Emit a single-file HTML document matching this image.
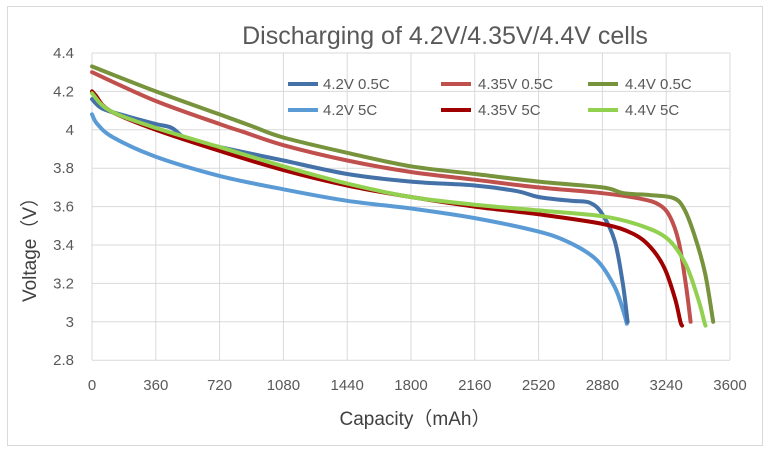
<!DOCTYPE html>
<html><head><meta charset="utf-8"><style>
body{margin:0;background:#fff;}
svg{display:block;font-family:"Liberation Sans","Noto Sans CJK SC",sans-serif;}
</style></head><body>
<svg id="s" width="770" height="453" xmlns="http://www.w3.org/2000/svg">
<rect x="0" y="0" width="770" height="453" fill="#fff"/>
<rect x="7.5" y="6.5" width="755" height="439" fill="none" stroke="#d9d9d9"/>
<g id="grid" stroke="#d9d9d9" stroke-width="1"></g>
<text x="445" y="44" text-anchor="middle" font-size="25" fill="#595959">Discharging of 4.2V/4.35V/4.4V cells</text>
<g id="yl" font-size="15" fill="#595959" text-anchor="end"></g>
<g id="xl" font-size="15" fill="#595959" text-anchor="middle"></g>
<text x="415" y="425" text-anchor="middle" font-size="19" fill="#404040">Capacity（mAh）</text>
<text transform="translate(36,245) rotate(-90)" text-anchor="middle" font-size="19" fill="#404040">Voltage（V）</text>
<g id="series" fill="none" stroke-width="4" stroke-linejoin="round" stroke-linecap="round"></g>
<g font-size="15" fill="#595959">
<line x1="288" y1="84" x2="318" y2="84" stroke="#4472a8" stroke-width="4"/><text x="323" y="89">4.2V 0.5C</text>
<line x1="441" y1="84" x2="471" y2="84" stroke="#c0504d" stroke-width="4"/><text x="478" y="89">4.35V 0.5C</text>
<line x1="588" y1="84" x2="618" y2="84" stroke="#77933c" stroke-width="4"/><text x="625" y="89">4.4V 0.5C</text>
<line x1="288" y1="110" x2="318" y2="110" stroke="#5b9bd5" stroke-width="4"/><text x="323" y="115">4.2V 5C</text>
<line x1="441" y1="110" x2="471" y2="110" stroke="#a00000" stroke-width="4"/><text x="478" y="115">4.35V 5C</text>
<line x1="588" y1="110" x2="618" y2="110" stroke="#92d050" stroke-width="4"/><text x="625" y="115">4.4V 5C</text>
</g>
</svg>
<script>
var NS="http://www.w3.org/2000/svg";
function X(c){return 92+c*0.17722;}
function Y(v){return 53+(4.4-v)*192;}
function el(t,a,p,txt){var e=document.createElementNS(NS,t);for(var k in a)e.setAttribute(k,a[k]);if(txt)e.textContent=txt;document.getElementById(p).appendChild(e);}
for(var i=0;i<=8;i++){var v=2.8+i*0.2,y=Y(v);el('line',{x1:92,x2:730,y1:y,y2:y},'grid');el('text',{x:74,y:y+5},'yl',(Math.round(v*10)/10).toString());}
for(var i=0;i<=10;i++){var c=i*360,x=X(c);el('line',{x1:x,x2:x,y1:53,y2:360},'grid');el('text',{x:x,y:390},'xl',String(c));}
var S=[
["#5b9bd5",[[0,4.08],[30,4.03],[120,3.96],[360,3.86],[720,3.76],[1080,3.69],[1440,3.63],[1800,3.59],[2160,3.54],[2520,3.47],[2700,3.41],[2850,3.32],[2950,3.18],[3000,3.05],[3018,2.99]]],
["#4472a8",[[0,4.16],[60,4.11],[200,4.07],[360,4.03],[450,4.01],[540,3.95],[720,3.91],[1080,3.84],[1440,3.77],[1800,3.73],[2160,3.71],[2400,3.68],[2520,3.65],[2700,3.63],[2810,3.62],[2880,3.56],[2950,3.42],[2995,3.2],[3022,3.0]]],
["#a00000",[[0,4.2],[20,4.18],[100,4.10],[360,4.0],[720,3.89],[1080,3.79],[1440,3.71],[1800,3.65],[2160,3.60],[2520,3.56],[2880,3.51],[3050,3.46],[3150,3.39],[3230,3.28],[3290,3.12],[3320,3.0],[3330,2.98]]],
["#c0504d",[[0,4.3],[360,4.15],[720,4.03],[850,3.99],[1080,3.92],[1440,3.84],[1800,3.78],[2160,3.74],[2520,3.70],[2880,3.67],[3100,3.64],[3200,3.61],[3260,3.55],[3310,3.42],[3350,3.2],[3378,3.0]]],
["#92d050",[[0,4.19],[100,4.10],[360,4.01],[720,3.91],[1080,3.81],[1440,3.72],[1800,3.65],[2160,3.61],[2520,3.58],[2880,3.55],[3100,3.50],[3250,3.43],[3350,3.30],[3420,3.12],[3455,3.0],[3462,2.98]]],
["#77933c",[[0,4.33],[360,4.2],[720,4.08],[900,4.02],[1080,3.96],[1440,3.88],[1800,3.81],[2160,3.77],[2520,3.73],[2880,3.70],[3000,3.67],[3150,3.66],[3280,3.645],[3340,3.59],[3400,3.45],[3460,3.25],[3505,3.0]]]
];
S.forEach(function(s){
  var P=s[1].map(function(p){return [X(p[0]),Y(p[1])];});
  var d='M'+P[0][0].toFixed(1)+','+P[0][1].toFixed(1);
  for(var i=0;i<P.length-1;i++){
    var p0=P[i>0?i-1:i],p1=P[i],p2=P[i+1],p3=P[i+2<P.length?i+2:i+1];
    var c1=[p1[0]+(p2[0]-p0[0])/6,p1[1]+(p2[1]-p0[1])/6],c2=[p2[0]-(p3[0]-p1[0])/6,p2[1]-(p3[1]-p1[1])/6];
    d+=' C'+c1[0].toFixed(1)+','+c1[1].toFixed(1)+' '+c2[0].toFixed(1)+','+c2[1].toFixed(1)+' '+p2[0].toFixed(1)+','+p2[1].toFixed(1);
  }
  el('path',{stroke:s[0],d:d},'series');
});
</script>
</body></html>
